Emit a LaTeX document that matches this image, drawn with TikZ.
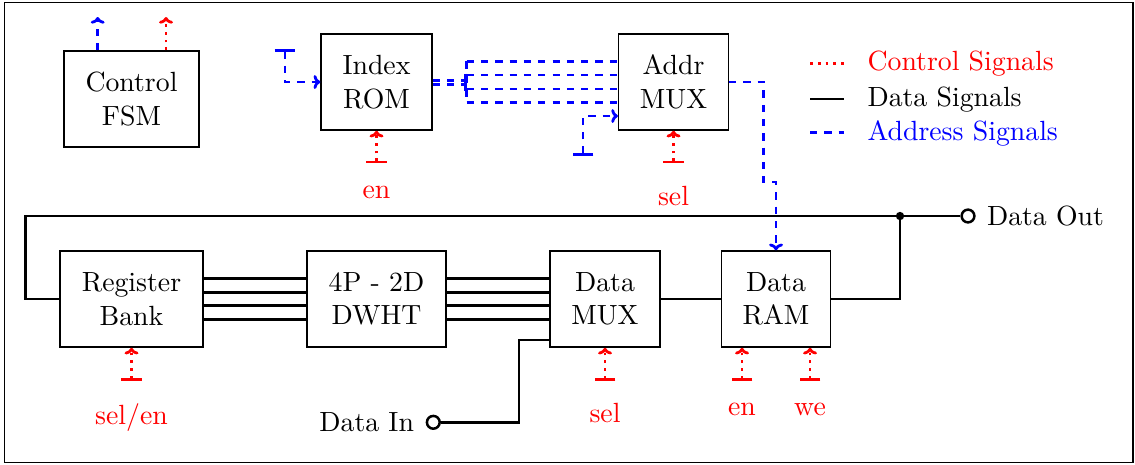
\documentclass[tikz,border=0pt]{standalone}
\usetikzlibrary{arrows.meta,calc}
\begin{document}
\begin{tikzpicture}[x=0.36pt,y=-0.36pt,
  >={To[length=2.4pt,width=5pt]},
  box/.style={draw,line width=0.5pt,align=center,minimum height=34.6pt,inner sep=1pt},
  dat/.style={line width=1pt},
  ctl/.style={red,line width=1pt,dash pattern=on 1pt off 1.8pt},
  adr/.style={blue,line width=1pt,dash pattern=on 2.6pt off 2.55pt},
  port/.style={circle,draw,line width=0.9pt,fill=white,inner sep=0pt,minimum size=4.6pt},
  lbl/.style={anchor=north,red}]
\useasboundingbox (0,0) rectangle (1135,464);
\draw[line width=0.4pt] (4.5,2.5) rectangle (1133,462.5);

% blocks
\node[box,minimum width=48.6pt] (fsm) at (131.5,99)  {Control\\FSM};
\node[box,minimum width=40pt]   (rom) at (376.5,82)  {Index\\ROM};
\node[box,minimum width=39.5pt] (am)  at (673.5,82)  {Addr\\MUX};
\node[box,minimum width=51.5pt] (rb)  at (131.5,299) {Register\\Bank};
\node[box,minimum width=50pt]   (wht) at (376.5,299) {4P - 2D\\DWHT};
\node[box,minimum width=39.6pt] (dm)  at (605,299)   {Data\\MUX};
\node[box,minimum width=39.3pt] (ram) at (776,299)   {Data\\RAM};

% FSM outputs
\coordinate (fsmA) at (97.7,17);
\coordinate (fsmC) at (166,17);
\draw[adr,->] (fsm.north -| fsmA) -- (fsmA);
\draw[ctl,->] (fsm.north -| fsmC) -- (fsmC);

% address inputs
\coordinate (romIn) at (285,49.3);
\draw[adr,{Bar[width=7.5pt]}->] (romIn) |- (rom.west);
\coordinate (amIn) at (583,155.7);
\path (am.west) ++(0,34) coordinate (amInT);
\draw[adr,{Bar[width=7.5pt]}->] (amIn) |- (amInT);

% address bus from ROM to MUX
\coordinate (busT) at (466.7,61.3);
\coordinate (busB) at (466.7,102.7);
\draw[adr] (busT) -- (busB);
\path (rom.east) ++(0,-1.5) coordinate (r1);
\path (rom.east) ++(0,2.5) coordinate (r2);
\draw[adr,-{Bar[width=5pt]}] (r1) -- (r1 -| busT);
\draw[adr,-{Bar[width=5pt]}] (r2) -- (r2 -| busT);
\foreach \dy [count=\i] in {-20.7,-7,7,20.7} {
  \path (am.west) ++(0,\dy) coordinate (m\i);
  \draw[adr] (m\i -| busT) -- (m\i);
}

% address to RAM
\coordinate (a1) at (763.5,182);
\draw[adr,->] (am.east) -| (a1) -| (ram.north);

% control inputs
\coordinate (cRom) at (376.5,163.3);
\coordinate (cAm)  at (673.5,163.3);
\coordinate (cRb)  at (131.5,380.7);
\coordinate (cDm)  at (605,380.7);
\coordinate (cEn)  at (742,380.7);
\coordinate (cWe)  at (810,380.7);
\draw[ctl,{Bar[width=7.5pt]}->] (cRom) -- (rom.south);
\draw[ctl,{Bar[width=7.5pt]}->] (cAm) -- (am.south);
\draw[ctl,{Bar[width=7.5pt]}->] (cRb) -- (rb.south);
\draw[ctl,{Bar[width=7.5pt]}->] (cDm) -- (dm.south);
\draw[ctl,{Bar[width=7.5pt]}->] (cEn) -- (ram.south -| cEn);
\draw[ctl,{Bar[width=7.5pt]}->] (cWe) -- (ram.south -| cWe);
\node[lbl] (tRom) at ($(cRom)+(0,13)$) {en};
\node[lbl] (tAm)  at ($(cAm)+(0,13)$)  {sel};
\node[lbl] (tRb)  at ($(cRb)+(0,13)$)  {sel/en};
\node[lbl] (tDm)  at ($(cDm)+(0,13)$)  {sel};
\node[lbl] (tEn)  at ($(cEn)+(0,13)$)  {en};
\node[lbl] (tWe)  at ($(cWe)+(0,13)$)  {we};

% data paths
\foreach \dy [count=\i] in {-20.3,-6.8,6.8,20.3} {
  \path (rb.east) ++(0,\dy) coordinate (p\i);
  \path (wht.east) ++(0,\dy) coordinate (q\i);
  \draw[dat] (p\i) -- (p\i -| wht.west);
  \draw[dat] (q\i) -- (q\i -| dm.west);
}
\draw[dat] (dm.east) -- (ram.west);
\coordinate (jn) at (900,216);
\coordinate (fbk) at (25.4,216);
\draw[dat] (ram.east) -| (jn);
\node[port] (oc) at (968,216) {};
\draw[dat] (oc.west) -- (jn) -- (fbk) |- (rb.west);
\fill (jn) circle[radius=1.5pt];
\node[anchor=west,inner sep=0pt] (ot) at (986.5,216) {Data Out};

\coordinate (bend) at (519,340);
\node[port] (ic) at (433.3,422.3) {};
\draw[dat] (ic.east) -| (bend) -- (dm.west |- bend);
\node[anchor=east,inner sep=0pt] (it) at (414.5,422.5) {Data In};

% legend
\coordinate (l1a) at (810,63.3);   \coordinate (l1b) at (844,63.3);
\coordinate (l2a) at (810,99);     \coordinate (l2b) at (844,99);
\coordinate (l3a) at (810,132.7);  \coordinate (l3b) at (844,132.7);
\draw[ctl] (l1a) -- (l1b);
\draw[dat] (l2a) -- (l2b);
\draw[adr] (l3a) -- (l3b);
\node[anchor=base west,inner sep=0pt,red]  (k1) at (867,70.8)  {Control Signals};
\node[anchor=base west,inner sep=0pt]      (k2) at (867,106.5) {Data Signals};
\node[anchor=base west,inner sep=0pt,blue] (k3) at (867,140.2) {Address Signals};
\end{tikzpicture}
\end{document}
